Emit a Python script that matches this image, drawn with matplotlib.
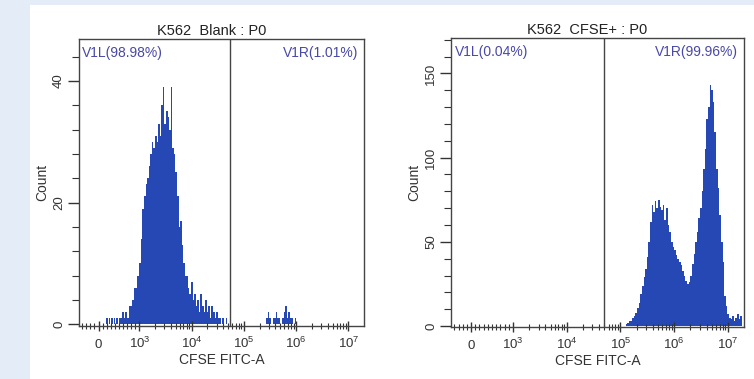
import numpy as np
import matplotlib
matplotlib.use('Agg')
import matplotlib.pyplot as plt
from matplotlib.patches import Rectangle
from matplotlib.ticker import FixedLocator, FixedFormatter

plt.rcParams['font.family'] = ['Liberation Sans', 'DejaVu Sans']
plt.rcParams['mathtext.default'] = 'regular'

# histogram bins are log10 spaced: first left edge exponent + step
bin_step = 0.03

# K562 Blank
blank_start = 2.25
blank_counts = [0, 1, 0, 1, 0, 1, 1, 0, 1, 1, 0, 1, 0, 1, 0, 1, 1, 2, 1, 2,
                1, 3, 4, 6, 8, 10, 14, 19, 21, 23, 24, 26, 28, 30, 29, 31, 30, 33, 31, 36,
                39, 33, 35, 34, 32, 39, 29, 28, 25, 21, 16, 17, 13, 10, 8, 8, 6, 5, 7, 4,
                5, 3, 4, 2, 5, 3, 2, 4, 2, 3, 1, 3, 2, 1, 2, 1, 1, 0, 1, 0,
                1, 0, 0, 0, 0, 0, 0, 0, 0, 0, 0, 0, 0, 0, 0, 0, 0, 0, 0, 0,
                0, 0, 0, 0, 0, 0, 1, 2, 1, 0, 1, 1, 2, 1, 1, 0, 1, 2, 3, 1,
                2, 1, 1, 0, 1]
blank_gate = 5.4e4

# K562 CFSE+
cfse_start = 5.10
cfse_counts = [1, 2, 3, 3, 5, 6, 8, 11, 14, 19, 24, 29, 34, 41, 50, 62, 72, 68, 74, 70,
               75, 71, 69, 72, 63, 70, 60, 56, 50, 47, 45, 42, 40, 38, 36, 33, 30, 27, 25, 26,
               30, 37, 43, 50, 56, 64, 70, 80, 93, 105, 123, 130, 143, 140, 133, 115, 93, 82, 66, 50,
               38, 18, 12, 7, 5, 4, 6, 3, 5, 7, 4, 6]
cfse_gate = 5.0e4

titles = ['K562  Blank : P0', 'K562  CFSE+ : P0']
left_labels = ['V1L(98.98%)', 'V1L(0.04%)']
right_labels = ['V1R(1.01%)', 'V1R(99.96%)']
y_major = [[0, 20, 40], [0, 50, 100, 150]]
y_minor_step = [4, 10]
y_lims = [(-0.3, 46.9), (-0.5, 171)]

x_major = [0, 1e3, 1e4, 1e5, 1e6, 1e7]
x_major_labels = ['0', '$10^3$', '$10^4$', '$10^5$', '$10^6$', '$10^7$']
x_minor = ([-400, -300, -200, -100] + [k * 100 for k in range(1, 10)]
           + [k * 10 ** d for d in range(3, 7) for k in range(2, 10)])

fill_color = '#2548b4'
gate_color = '#4848a8'

fig = plt.figure(figsize=(7.54, 3.79), dpi=100)
fig.patch.set_facecolor('#e4edf7')
fig.add_artist(Rectangle((30 / 754, 0), 1, 1 - 5 / 379, transform=fig.transFigure,
                         facecolor='white', edgecolor='none', zorder=-10))

ax_pos = [[79 / 754, 53 / 379, 285 / 754, 287 / 379],
          [451 / 754, 52 / 379, 293 / 754, 289 / 379]]
datasets = [(blank_start, blank_counts, blank_gate), (cfse_start, cfse_counts, cfse_gate)]

for i, (start, counts, gate) in enumerate(datasets):
    ax = fig.add_axes(ax_pos[i])
    ax.set_facecolor('white')
    edges = 10 ** (start + bin_step * np.arange(len(counts) + 1))
    ax.set_xscale('symlog', linthresh=1e3, linscale=0.702)
    ax.stairs(counts, edges, fill=True, color=fill_color, linewidth=0)
    ax.axvline(gate, color='#444444', linewidth=1.0)

    ax.set_xlim(-480, 10 ** 7.3)
    ax.set_ylim(*y_lims[i])
    ax.xaxis.set_major_locator(FixedLocator(x_major))
    ax.xaxis.set_major_formatter(FixedFormatter(x_major_labels))
    ax.xaxis.set_minor_locator(FixedLocator(x_minor))
    ax.set_yticks(y_major[i])
    ax.yaxis.set_minor_locator(FixedLocator(np.arange(0, y_lims[i][1], y_minor_step[i])))
    ax.set_yticklabels([str(v) for v in y_major[i]], rotation=90, va='center')

    ax.tick_params(axis='x', which='major', direction='inout', length=7, width=1,
                   labelsize=9.5, pad=12.5, colors='#333333')
    ax.tick_params(axis='x', which='minor', direction='inout', length=5, width=0.8,
                   colors='#333333')
    ax.tick_params(axis='y', which='major', direction='out', length=8, width=1,
                   labelsize=9.5, pad=2, colors='#333333')
    ax.tick_params(axis='y', which='minor', direction='out', length=5, width=0.8,
                   colors='#333333')
    for lbl in ax.get_xticklabels():
        lbl.set_verticalalignment('baseline')
    for s in ax.spines.values():
        s.set_color('#444444')
        s.set_linewidth(1.0)

    ax.set_title(titles[i], x=0.466, fontsize=10.5, color='#222222', pad=3)
    ax.set_xlabel('CFSE FITC-A', fontsize=10, color='#333333', labelpad=1)
    ax.set_ylabel('Count', fontsize=10, color='#333333', labelpad=3)
    ax.text(0.012, 0.975, left_labels[i], transform=ax.transAxes, ha='left', va='top',
            fontsize=10, color=gate_color)
    ax.text(0.98, 0.975, right_labels[i], transform=ax.transAxes, ha='right', va='top',
            fontsize=10, color=gate_color)

fig.savefig('out.png', dpi=100, facecolor=fig.get_facecolor())
